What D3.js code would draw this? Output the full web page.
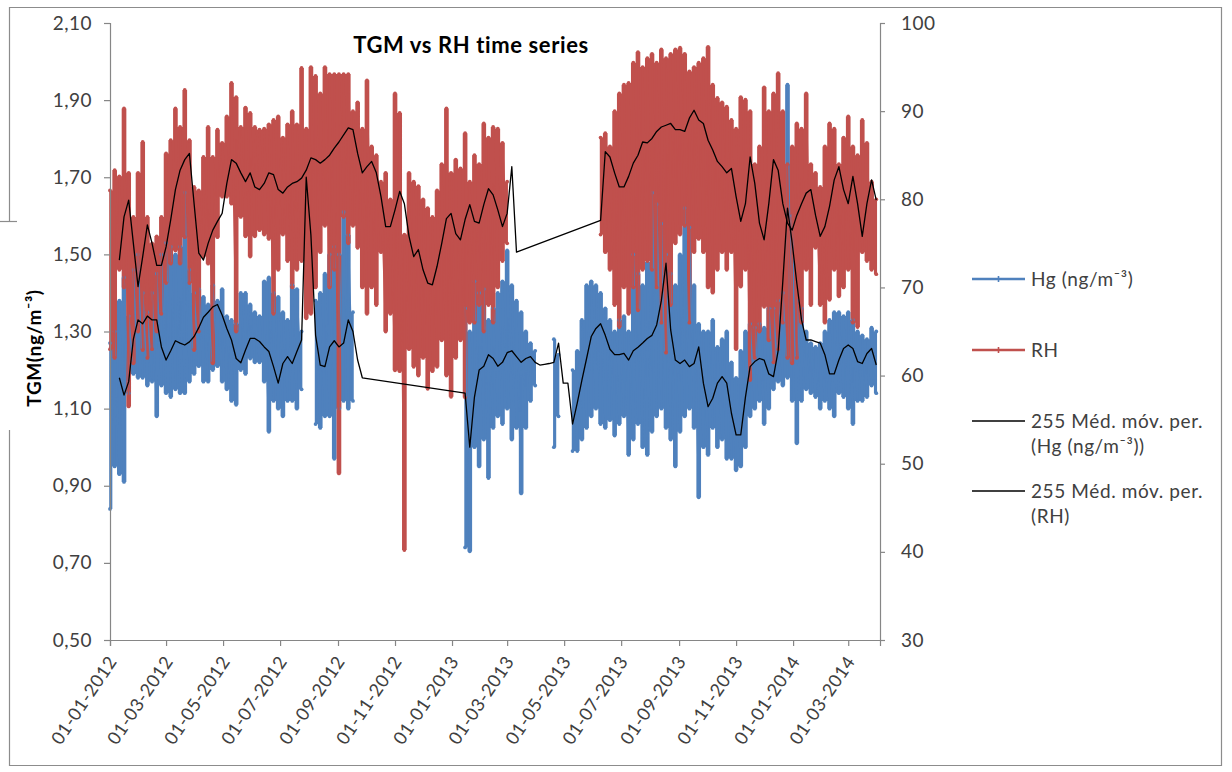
<!DOCTYPE html>
<html>
<head>
<meta charset="utf-8">
<script src="https://cdn.jsdelivr.net/npm/d3@7"></script>
<style>
  body { margin: 0; background: #ffffff; }
  svg { display: block; }
  text { font-family: Lato, "Open Sans", "Liberation Sans", sans-serif; }
</style>
</head>
<body>
<svg id="chart" width="1232" height="772"></svg>
<script>
// Samples every 5 days from the first date; each sample keeps the high and low of the period.
const sampleStart = "2012-01-01";
const sampleStepDays = 5;

// Relative humidity (%), right axis
const rhHigh = [
  81, 83.3, 82.6, 90.3, 83, 78, 83, 86.5, 78, 75,
  75.8, 78, 85.2, 86.7, 90.3, 88.2, 92.4, 86.7, 81.4, 81,
  84.8, 88.2, 84.8, 87.9, 86.4, 89.4, 93.2, 91.6, 88.2, 90.4,
  89.8, 88.2, 87.9, 88.0, 88.5, 89.0, 89.4, 87.0, 88.5, 90.0,
  88.5, 94.9, 88.0, 95.0, 94.0, 92.0, 95.0, 94.2, 94.2, 94.2,
  94.2, 94.2, 90.0, 91.0, 88.0, 93.5, 86.0, 85.0, 82.0, 83.0,
  80.0, 92.0, 89.8, 76.0, 83.0, 82.0, 81.5, 80.0, 79.0, 78.0,
  81.0, 84.0, 90.3, 83.0, 84.5, 83.5, 87.5, 82.0, 85.0, 84.0,
  88.6, 87.0, 88.2, 88.0, 86.4, 82.0, null, null, null, null,
  null, null, null, null, null, null, null, null, null, null,
  null, null, null, null, null, 87.0, 87.5, 86.0, 90.0, 92.0,
  93.0, 93.2, 95.5, 96.7, 95.0, 96.0, 96.5, 95.5, 97.0, 96.0,
  96.5, 97.0, 97.2, 96.5, 94.5, 95.0, 95.5, 96.0, 97.3, 93.0,
  91.5, 91.0, 90.5, 89.0, 88.0, 91.6, 91.3, 90.0, 84.0, 86.0,
  92.7, 90.0, 92.0, 94.3, 90.0, 84.0, 86.0, 88.6, 88.0, 92.0,
  84.0, 83.0, 81.4, 86.0, 88.6, 88.0, 84.0, 87.0, 89.4, 86.0,
  85.0, 89.0, 86.4, 82.0, 80.0
];
const rhLow = [
  63, 62, 72, 70, 56.5, 61.4, 65, 62.9, 62, 63,
  65, 67, 70.5, 72.7, 74.2, 72.7, 75.7, 70.5, 62.9, 65,
  73.5, 72.7, 61.4, 75.7, 80.3, 80.3, 79.5, 65, 78, 75.8,
  73.5, 75.8, 76.5, 76.0, 75.5, 67.0, 72.0, 76.0, 73.0, 70.0,
  72.0, 73.0, 66.5, 67.0, 70.0, 74.0, 77.0, 70.0, 72.0, 48.9,
  78.0, 75.0, 77.0, 74.5, 70.0, 67.0, 70.0, 68.0, 74.0, 65.0,
  67.0, 60.6, 60.5, 40.2, 63.0, 61.0, 60.0, 62.0, 58.5, 60.5,
  61.0, 64.0, 60.0, 57.6, 62.0, 64.0, 57.5, 66.0, 66.0, 68.0,
  65.0, 68.0, 66.0, 70.0, 73.0, 75.0, null, null, null, null,
  null, null, null, null, null, null, null, null, null, null,
  null, null, null, null, null, 76.0, 74.0, 72.0, 68.0, 65.5,
  70.0, 67.0, 70.0, 67.4, 72.0, 73.0, 72.0, 70.0, 66.0, 62.6,
  68.0, 75.0, 76.0, 77.0, 66.0, 74.0, 75.5, 74.0, 70.0, 69.4,
  72.0, 74.0, 72.0, 74.0, 63.0, 70.1, 72.0, 59.5, 62.0, 65.0,
  67.8, 64.0, 61.5, 63.0, 66.0, 62.0, 61.4, 62.0, 66.0, 72.0,
  68.0, 74.5, 68.0, 66.0, 68.6, 72.0, 69.0, 70.0, 72.0, 66.0,
  65.5, 74.0, 73.0, 72.0, 71.5
];

// Gaseous mercury (ng/m3), left axis
const hgHigh = [
  1.27, 1.30, 1.38, 1.44, 1.34, 1.46, 1.50, 1.40, 1.35, 1.40,
  1.45, 1.50, 1.53, 1.52, 1.50, 1.52, 1.66, 1.46, 1.40, 1.41,
  1.39, 1.37, 1.42, 1.38, 1.41, 1.34, 1.33, 1.32, 1.40, 1.40,
  1.37, 1.35, 1.34, 1.43, 1.44, 1.40, 1.39, 1.35, 1.33, 1.42,
  1.41, 1.30, null, null, 1.38, 1.40, 1.45, 1.50, 1.52, 1.50,
  1.61, 1.55, 1.35, null, null, null, null, null, null, null,
  null, null, null, null, null, null, null, null, null, null,
  null, null, null, null, null, null, 1.36, 1.30, 1.43, 1.40,
  1.41, 1.33, 1.36, 1.40, 1.43, 1.51, 1.42, 1.38, 1.35, 1.30,
  1.27, 1.25, null, null, null, 1.28, 1.24, null, null, 1.20,
  1.25, 1.33, 1.42, 1.43, 1.42, 1.40, 1.36, 1.33, 1.30, 1.33,
  1.34, 1.30, 1.50, 1.45, 1.42, 1.48, 1.66, 1.63, 1.58, 1.50,
  1.45, 1.42, 1.50, 1.62, 1.57, 1.42, 1.32, 1.30, 1.30, 1.33,
  1.26, 1.28, 1.30, 1.22, 1.18, 1.25, 1.30, 1.32, 1.31, 1.32,
  1.31, 1.36, 1.36, 1.38, 1.40, 1.94, 1.60, 1.38, 1.36, 1.30,
  1.27, 1.26, 1.27, 1.30, 1.33, 1.35, 1.35, 1.34, 1.35, 1.33,
  1.30, 1.29, 1.28, 1.31, 1.30
];
const hgLow = [
  0.84, 0.95, 0.93, 0.91, 1.14, 1.19, 1.18, 1.18, 1.16, 1.17,
  1.08, 1.16, 1.14, 1.13, 1.15, 1.14, 1.14, 1.17, 1.19, 1.21,
  1.17, 1.17, 1.20, 1.21, 1.17, 1.15, 1.12, 1.11, 1.20, 1.19,
  1.23, 1.22, 1.22, 1.17, 1.04, 1.12, 1.10, 1.08, 1.12, 1.12,
  1.10, 1.15, null, null, 1.06, 1.05, 1.08, 1.08, 0.97, 1.10,
  1.12, 1.10, 1.12, null, null, null, null, null, null, null,
  null, null, null, null, null, null, null, null, null, null,
  null, null, null, null, null, null, 0.74, 0.73, 1.00, 0.95,
  1.02, 0.92, 1.05, 1.08, 1.06, 1.10, 1.02, 1.05, 0.88, 1.05,
  1.12, 1.16, null, null, null, 1.00, 1.08, null, null, 0.99,
  0.99, 1.02, 1.05, 1.08, 1.10, 1.06, 1.05, 1.07, 1.03, 1.06,
  1.08, 0.98, 1.02, 1.06, 1.00, 0.98, 1.04, 1.08, 1.10, 1.05,
  1.02, 0.95, 1.04, 1.08, 1.10, 1.05, 0.87, 1.00, 0.98, 1.05,
  1.00, 1.02, 0.97, 0.97, 0.94, 0.95, 1.00, 1.08, 1.10, 1.12,
  1.06, 1.10, 1.15, 1.17, 1.16, 1.18, 1.12, 1.01, 1.12, 1.15,
  1.14, 1.13, 1.10, 1.12, 1.10, 1.08, 1.14, 1.13, 1.10, 1.06,
  1.12, 1.12, 1.13, 1.16, 1.14
];

// 255-period moving averages
const hgAvg = [
  null, null, 1.18, 1.135, 1.17, 1.28, 1.33, 1.32, 1.34, 1.33,
  1.33, 1.26, 1.226, 1.25, 1.276, 1.27, 1.265, 1.273, 1.287, 1.31,
  1.337, 1.35, 1.364, 1.37, 1.343, 1.308, 1.278, 1.23, 1.219, 1.252,
  1.282, 1.282, 1.274, 1.26, 1.248, 1.209, 1.166, 1.217, 1.235, 1.217,
  1.248, 1.278, 1.70, 1.55, 1.29, 1.213, 1.209, 1.26, 1.276, 1.26,
  1.27, 1.33, 1.30, 1.226, 1.18, null, null, null, null, null,
  null, null, null, null, null, null, null, null, null, null,
  null, null, null, null, null, null, 1.14, 1.00, 1.13, 1.20,
  1.21, 1.24, 1.23, 1.21, 1.22, 1.245, 1.25, 1.235, 1.22, 1.23,
  1.235, 1.22, 1.213, 1.215, 1.217, 1.22, 1.27, 1.166, 1.166, 1.06,
  1.114, 1.174, 1.23, 1.287, 1.308, 1.32, 1.29, 1.254, 1.24, 1.24,
  1.243, 1.226, 1.25, 1.259, 1.27, 1.282, 1.29, 1.317, 1.38, 1.477,
  1.304, 1.226, 1.217, 1.226, 1.209, 1.217, 1.26, 1.166, 1.105, 1.127,
  1.166, 1.183, 1.166, 1.088, 1.032, 1.032, 1.13, 1.209, 1.222, 1.23,
  1.226, 1.19, 1.183, 1.25, 1.43, 1.62, 1.53, 1.425, 1.33, 1.278,
  1.278, 1.274, 1.27, 1.24, 1.19, 1.19, 1.226, 1.256, 1.265, 1.256,
  1.222, 1.217, 1.243, 1.256, 1.213
];
const rhAvg = [
  null, null, 73.1, 78.0, 79.9, 75.0, 70.1, 73.5, 77.1, 75.0,
  72.5, 72.5, 74.6, 77.7, 81.1, 83.3, 84.5, 85.2, 79.5, 73.9,
  73.1, 75.0, 76.5, 77.5, 78.4, 81.8, 84.5, 84.1, 83.0, 82.0,
  83.0, 81.4, 81.1, 81.8, 83.0, 82.8, 81.1, 80.7, 81.4, 81.8,
  82.0, 82.4, 83.3, 84.7, 84.5, 84.1, 84.5, 85.0, 85.8, 86.5,
  87.3, 88.1, 87.9, 85.2, 83.0, 83.7, 84.3, 83.0, 80.3, 76.9,
  76.9, 78.8, 80.9, 79.5, 75.8, 73.5, 74.3, 72.0, 70.5, 70.3,
  72.4, 75.0, 77.8, 78.4, 76.1, 75.4, 77.7, 79.4, 77.5, 77.3,
  79.4, 81.2, 80.5, 78.8, 76.9, 78.4, 83.7, 74.0, null, null,
  null, null, null, null, null, null, null, null, null, null,
  null, null, null, null, null, 77.6, 85.4, 84.8, 83.0, 81.4,
  81.4, 82.6, 84.1, 85.0, 86.5, 86.4, 86.9, 87.7, 88.2, 88.4,
  88.6, 87.9, 87.9, 87.7, 89.2, 90.1, 89.0, 88.6, 86.7, 85.6,
  84.3, 83.7, 83.0, 83.5, 80.3, 77.5, 79.5, 84.8, 81.8, 77.3,
  75.4, 79.5, 84.5, 83.3, 79.5, 77.3, 76.5, 78.2, 79.5, 80.7,
  81.1, 78.2, 75.8, 76.9, 79.2, 82.2, 83.7, 81.1, 79.5, 82.6,
  79.5, 75.8, 79.5, 82.2, 79.9
];

// Axis ticks
const leftTicks = [0.5, 0.7, 0.9, 1.1, 1.3, 1.5, 1.7, 1.9, 2.1];
const rightTicks = [30, 40, 50, 60, 70, 80, 90, 100];
const dateTicks = ["2012-01-01", "2012-03-01", "2012-05-01", "2012-07-01", "2012-09-01",
  "2012-11-01", "2013-01-01", "2013-03-01", "2013-05-01", "2013-07-01", "2013-09-01",
  "2013-11-01", "2014-01-01", "2014-03-01"];
const axisEnd = "2014-04-04";

const COLORS = { hg: "#4f81bd", rh: "#c0504d", avg: "#000000", axis: "#868686", text: "#404040" };
const plot = { left: 110, right: 880, top: 23, bottom: 640 };

const svg = d3.select("#chart");
const parse = d3.utcParse("%Y-%m-%d");
const t0 = parse(sampleStart);
const sampleDates = rhHigh.map((_, i) => d3.utcDay.offset(t0, i * sampleStepDays));

const x = d3.scaleUtc().domain([parse(sampleStart), parse(axisEnd)]).range([plot.left, plot.right]);
const yHg = d3.scaleLinear().domain([0.5, 2.1]).range([plot.bottom, plot.top]);
const yRh = d3.scaleLinear().domain([30, 100]).range([plot.bottom, plot.top]);

// Outer frame of the chart area
const frame = svg.append("g").attr("stroke", "#8c8c8c").attr("stroke-width", 1.2).attr("fill", "none");
frame.append("path").attr("d", "M9.5,222 V7.5 H1221.5 V765.5 H9.5 V430");
frame.append("path").attr("d", "M0,221.5 H17");

// Split a high/low series into runs of consecutive samples
function runsOf(high, low) {
  const runs = [];
  let current = [];
  high.forEach((h, i) => {
    if (h == null || low[i] == null) {
      if (current.length) runs.push(current);
      current = [];
      return;
    }
    current.push({ t: sampleDates[i], hi: h, lo: low[i] });
  });
  if (current.length) runs.push(current);
  return runs;
}

const layerBands = svg.append("g");
const layerLines = svg.append("g");
const layerAvg = svg.append("g");

// Band between the period low and high (stepped, like the dense hourly record)
function drawBand(high, low, yScale, color) {
  const area = d3.area().curve(d3.curveStep)
    .x(d => x(d.t)).y0(d => yScale(d.lo)).y1(d => yScale(d.hi));
  layerBands.append("g").selectAll("path").data(runsOf(high, low)).join("path")
    .attr("d", area).attr("fill", color);
}

// Vertical high–low strokes joined in time order, with point markers
function drawStrokes(high, low, yScale, color) {
  const g = layerLines.append("g");
  const runs = runsOf(high, low).map(run => run.flatMap(d => [
    { t: d.t, v: d.lo }, { t: d.t, v: d.hi }
  ]));
  const line = d3.line().x(d => x(d.t)).y(d => yScale(d.v));
  g.selectAll("path").data(runs).join("path")
    .attr("d", line).attr("fill", "none").attr("stroke", color)
    .attr("stroke-width", 1.6).attr("stroke-linejoin", "round");
  g.selectAll("circle").data(runs.flat()).join("circle")
    .attr("cx", d => x(d.t)).attr("cy", d => yScale(d.v)).attr("r", 1.9).attr("fill", color);
}

// Moving averages bridge gaps with a straight segment
function drawAverage(values, yScale) {
  const pts = values.map((v, i) => ({ t: sampleDates[i], v })).filter(d => d.v != null);
  layerAvg.append("path").datum(pts)
    .attr("d", d3.line().x(d => x(d.t)).y(d => yScale(d.v)))
    .attr("fill", "none").attr("stroke", COLORS.avg).attr("stroke-width", 1.3)
    .attr("stroke-linejoin", "round");
}

drawBand(hgHigh, hgLow, yHg, COLORS.hg);
drawBand(rhHigh, rhLow, yRh, COLORS.rh);
drawStrokes(hgHigh, hgLow, yHg, COLORS.hg);
drawStrokes(rhHigh, rhLow, yRh, COLORS.rh);
drawAverage(hgAvg, yHg);
drawAverage(rhAvg, yRh);

// Axes
function styleAxis(g, size) {
  g.selectAll(".domain").attr("stroke", COLORS.axis).attr("stroke-width", 1.2);
  g.selectAll(".tick line").attr("stroke", COLORS.axis).attr("stroke-width", 1.2);
  g.selectAll("text").attr("fill", COLORS.text).style("font-size", size)
    .style("letter-spacing", "0.5px")
    .style("font-family", 'Lato, "Open Sans", sans-serif');
}

const leftAxis = svg.append("g").attr("transform", `translate(${plot.left},0)`)
  .call(d3.axisLeft(yHg).tickValues(leftTicks).tickSize(6).tickPadding(12)
    .tickFormat(d => d.toFixed(2).replace(".", ",")));
styleAxis(leftAxis, "19px");

const rightAxis = svg.append("g").attr("transform", `translate(${plot.right},0)`)
  .call(d3.axisRight(yRh).tickValues(rightTicks).tickSize(5).tickPadding(16));
styleAxis(rightAxis, "19px");

const bottomAxis = svg.append("g").attr("transform", `translate(0,${plot.bottom})`)
  .call(d3.axisBottom(x).tickValues(dateTicks.map(parse)).tickSize(6)
    .tickFormat(d3.utcFormat("%d-%m-%Y")));
styleAxis(bottomAxis, "18px");
bottomAxis.selectAll("text")
  .attr("text-anchor", "end").attr("dy", "0.35em")
  .attr("transform", "translate(2,18) rotate(-56)").attr("y", 0).attr("x", 0);

// Titles
svg.append("text").attr("x", 471).attr("y", 53).attr("text-anchor", "middle")
  .style("font-size", "22px").style("font-weight", "700").style("letter-spacing", "0.6px")
  .attr("fill", "#000").text("TGM vs RH time series");

svg.append("text").attr("transform", "translate(41,348) rotate(-90)")
  .attr("text-anchor", "middle").style("font-size", "19px").style("font-weight", "700")
  .style("letter-spacing", "0.6px").attr("fill", "#000").text("TGM(ng/m⁻³)");

// Legend
const legend = svg.append("g").attr("transform", "translate(972,0)");
const legendItems = [
  { y: 279, color: COLORS.hg, width: 2.6, marker: true, lines: ["Hg (ng/m⁻³)"] },
  { y: 350, color: COLORS.rh, width: 2.6, marker: true, lines: ["RH"] },
  { y: 421, color: COLORS.avg, width: 1.3, marker: false, lines: ["255 Méd. móv. per.", "(Hg (ng/m⁻³))"] },
  { y: 491, color: COLORS.avg, width: 1.3, marker: false, lines: ["255 Méd. móv. per.", "(RH)"] }
];
legendItems.forEach(item => {
  const g = legend.append("g");
  g.append("line").attr("x1", 0).attr("x2", 53).attr("y1", item.y).attr("y2", item.y)
    .attr("stroke", item.color).attr("stroke-width", item.width);
  if (item.marker) {
    g.append("path").attr("d", `M26.5,${item.y - 3} V${item.y + 3} M23.5,${item.y} H29.5`)
      .attr("stroke", item.color).attr("stroke-width", 1.6);
  }
  item.lines.forEach((txt, j) => {
    g.append("text").attr("x", 59).attr("y", item.y + j * 25).attr("dy", "0.35em")
      .style("font-size", "19px").style("letter-spacing", "0.6px")
      .attr("fill", COLORS.text).text(txt);
  });
});
</script>
</body>
</html>
